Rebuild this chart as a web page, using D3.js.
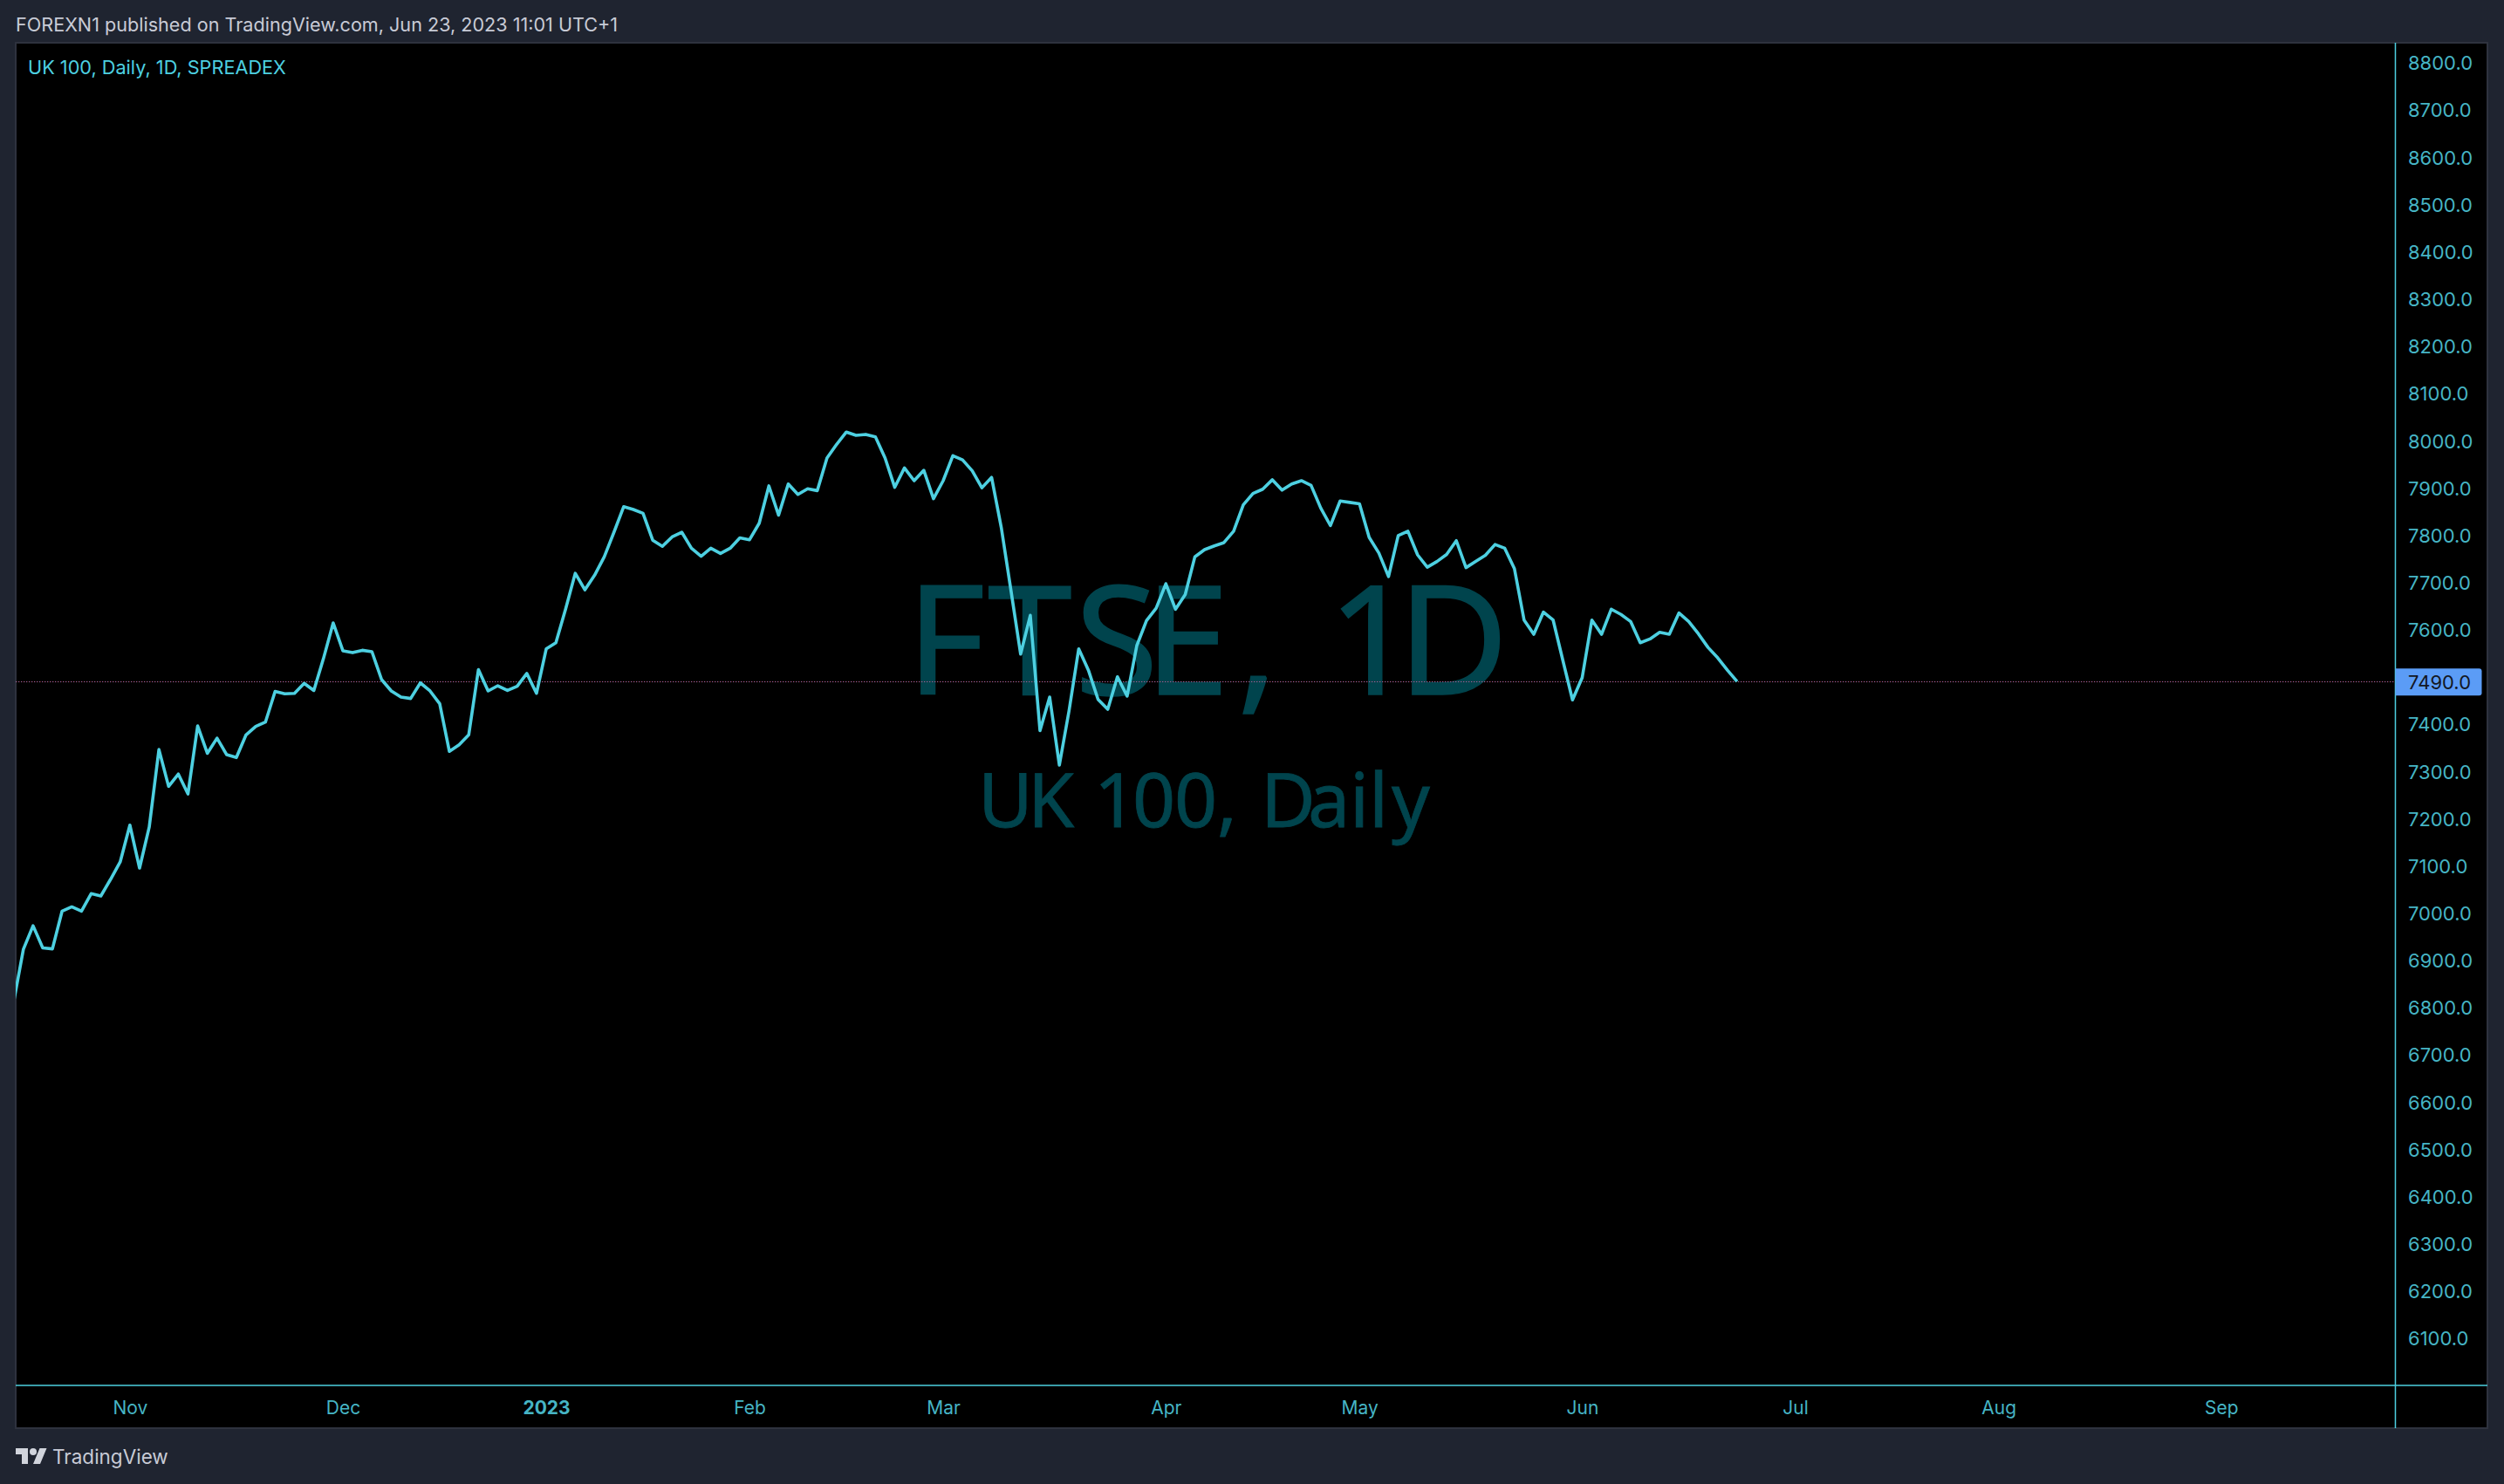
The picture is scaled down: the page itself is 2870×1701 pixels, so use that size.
<!DOCTYPE html>
<html>
<head>
<meta charset="utf-8">
<script src="https://cdn.jsdelivr.net/npm/d3@7"></script>
<style>
  html, body { margin: 0; padding: 0; background: #1f2430; }
  svg { display: block; }
  text { font-family: Inter, "Noto Sans", sans-serif; }
</style>
</head>
<body>
<svg id="chart" width="2870" height="1701"></svg>
<script>
// closes, one per trading day
var closes = [
  6812, 6923, 6973, 6926, 6924, 7004, 7013, 7004, 7041, 7036, 7071, 7108, 7186, 7095, 7182, 7346,
  7268, 7294, 7252, 7396, 7338, 7370, 7335, 7329, 7377, 7395, 7404, 7469, 7464, 7465, 7486, 7471,
  7539, 7614, 7555, 7551, 7556, 7553, 7494, 7470, 7457, 7454, 7487, 7470, 7443, 7342, 7356, 7377,
  7515, 7470, 7481, 7471, 7480, 7507, 7465, 7559, 7572, 7643, 7719, 7684, 7715, 7754, 7806, 7860,
  7854, 7846, 7789, 7776, 7796, 7806, 7772, 7755, 7772, 7761, 7772, 7794, 7790, 7825, 7904, 7842,
  7908, 7886, 7898, 7894, 7963, 7992, 8018, 8011, 8013, 8008, 7963, 7901, 7942, 7915, 7937, 7877,
  7915, 7968, 7959, 7936, 7900, 7922, 7816, 7683, 7548, 7630, 7386, 7457, 7313, 7428, 7559, 7514,
  7452, 7431, 7500, 7459, 7566, 7619, 7645, 7697, 7643, 7674, 7754, 7769, 7777, 7784, 7808, 7864,
  7888, 7897, 7917, 7895, 7908, 7915, 7905, 7857, 7820, 7872, 7869, 7866, 7795, 7762, 7712, 7799,
  7808, 7758, 7732, 7744, 7759, 7788, 7731, 7744, 7757, 7780, 7772, 7729, 7620, 7590, 7637, 7620,
  7535, 7451, 7498, 7620, 7590, 7643, 7632, 7617, 7572, 7580, 7594, 7590, 7635, 7617, 7591, 7562,
  7540, 7514, 7490
];
var lastPrice = 7490;
var priceTicks = d3.range(6100, 8801, 100);
var monthLabels = ["Nov", "Dec", "2023", "Feb", "Mar", "Apr", "May", "Jun", "Jul", "Aug", "Sep"];
var monthBars = [12, 34, 55, 76, 96, 119, 139, 162, 184, 205, 228];

var W = 2870, H = 1701;
var pane = {left: 18, top: 49, right: 2745.5, bottom: 1588, end: 2851, foot: 1637};
var cyan = "#4dd0e1", tickColor = "#46b5c5", shade = "#00444d";

var svg = d3.select("#chart");

// panel
svg.append("rect").attr("width", W).attr("height", H).attr("fill", "#1f2430");
svg.append("rect")
  .attr("x", pane.left).attr("y", pane.top)
  .attr("width", pane.end - pane.left).attr("height", pane.foot - pane.top)
  .attr("fill", "#000").attr("stroke", "#2e323e").attr("stroke-width", 2);

var x = d3.scaleLinear().domain([0, closes.length - 1]).range([15.7, 1991]);
var y = d3.scaleLinear().domain([6000, 8842]).range([pane.bottom, pane.top]);

svg.append("clipPath").attr("id", "pane-clip").append("rect")
  .attr("x", pane.left).attr("y", pane.top)
  .attr("width", pane.right - pane.left).attr("height", pane.bottom - pane.top);

// watermark, the original face is wider than Noto so glyphs are placed one by one
svg.append("text")
  .attr("x", "1039 1132 1232 1312 1418 1480 1522 1602")
  .attr("y", 796)
  .style("font-family", "'Noto Sans'")
  .style("font-size", "174px")
  .attr("fill", shade)
  .attr("stroke", shade)
  .attr("stroke-width", 1.5)
  .text("FTSE, 1D");
svg.append("text")
  .attr("x", "1121 1178 1240 1254 1298 1346 1395 1420 1445 1499 1547 1569 1595")
  .attr("y", 948)
  .style("font-family", "'Noto Sans'")
  .style("font-size", "86px")
  .attr("fill", shade)
  .attr("stroke", shade)
  .attr("stroke-width", 0.8)
  .text("UK 100, Daily");

// last price line, blue and red dots side by side
var priceLine = svg.append("g").attr("transform", `translate(0,${Math.round(y(lastPrice)) + 0.5})`);
priceLine.append("line").attr("x1", pane.left).attr("x2", pane.right)
  .attr("stroke", "#f23645").attr("stroke-dasharray", "1.4 1.6");
priceLine.append("line").attr("x1", pane.left + 0.4).attr("x2", pane.right)
  .attr("stroke", "#4f8fe8").attr("stroke-dasharray", "0.6 2.4");

// series
var line = d3.line().x((d, i) => x(i)).y(d => y(d));
svg.append("path")
  .datum(closes)
  .attr("clip-path", "url(#pane-clip)")
  .attr("fill", "none")
  .attr("stroke", cyan)
  .attr("stroke-width", 3.6)
  .attr("stroke-linejoin", "round")
  .attr("d", line);

// price axis
var yAxis = g => g
  .attr("transform", `translate(${pane.right},1)`)
  .call(d3.axisRight(y).tickValues(priceTicks).tickFormat(d3.format(".1f")).tickSize(0).tickPadding(14.5))
  .call(g => g.select(".domain").remove())
  .call(g => g.selectAll("text").attr("fill", tickColor).style("font-size", "22px").style("font-family", "Inter"));
svg.append("g").call(yAxis);

svg.append("line").attr("x1", pane.right).attr("x2", pane.right)
  .attr("y1", pane.top).attr("y2", pane.foot).attr("stroke", cyan).attr("stroke-width", 1.5);
svg.append("line").attr("x1", pane.left).attr("x2", pane.end)
  .attr("y1", pane.bottom).attr("y2", pane.bottom).attr("stroke", cyan).attr("stroke-width", 1.5);

// last price label
var tag = svg.append("g").attr("transform", `translate(${pane.right},${y(lastPrice)})`);
tag.append("path")
  .attr("d", "M0,-15h96a3,3 0 0 1 3,3v25a3,3 0 0 1 -3,3h-96z")
  .attr("fill", "#5b9cf6");
tag.append("text")
  .attr("x", 14.5).attr("y", 1).attr("dy", "0.35em")
  .attr("fill", "#131722")
  .style("font-size", "22px")
  .text(d3.format(".1f")(lastPrice));

// time axis
var xAxis = g => g
  .attr("transform", `translate(0,${pane.bottom})`)
  .call(d3.axisBottom(x).tickValues(monthBars).tickFormat((d, i) => monthLabels[i]).tickSize(0).tickPadding(18.5))
  .call(g => g.select(".domain").remove())
  .call(g => g.selectAll("text")
    .attr("fill", tickColor)
    .style("font-size", "21px")
    .style("font-family", "Inter")
    .style("font-weight", (d, i) => monthLabels[i] == "2023" ? 700 : 400));
svg.append("g").call(xAxis);

// header, legend, footer
svg.append("text")
  .attr("x", 18).attr("y", 36)
  .attr("fill", "#c8cbd6")
  .style("font-size", "21.6px")
  .text("FOREXN1 published on TradingView.com, Jun 23, 2023 11:01 UTC+1");
svg.append("text")
  .attr("x", 32).attr("y", 85)
  .attr("fill", cyan)
  .style("font-size", "21.7px")
  .text("UK 100, Daily, 1D, SPREADEX");

var logo = svg.append("g").attr("transform", "translate(18,1656)").attr("fill", "#d1d4dc");
logo.append("path").attr("d", "M14 22H7V11H0V4h14v18zM28 22h-8l7.5-18h8L28 22z");
logo.append("circle").attr("cx", 20).attr("cy", 8).attr("r", 4);
svg.append("text")
  .attr("x", 60).attr("y", 1678)
  .attr("fill", "#c8cbd6")
  .style("font-size", "22.5px")
  .text("TradingView");
</script>
</body>
</html>
